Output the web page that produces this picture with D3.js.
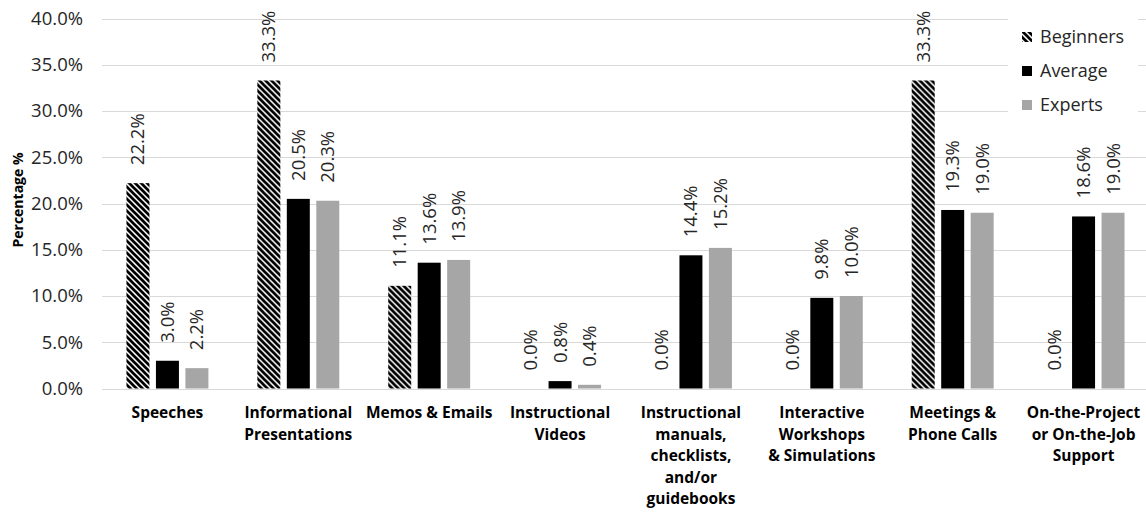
<!DOCTYPE html>
<html>
<head>
<meta charset="utf-8">
<script src="https://cdn.jsdelivr.net/npm/d3@7"></script>
<style>
  html, body { margin: 0; padding: 0; background: #fff; }
  svg { display: block; font-family: "Open Sans", "Noto Sans", sans-serif; }
</style>
</head>
<body>
<svg id="chart" width="1146" height="516"></svg>
<script>
// Communication channels (line breaks follow the wrapped axis labels)
const categories = [
  "Speeches",
  "Informational\nPresentations",
  "Memos & Emails",
  "Instructional\nVideos",
  "Instructional\nmanuals,\nchecklists,\nand/or\nguidebooks",
  "Interactive\nWorkshops\n& Simulations",
  "Meetings &\nPhone Calls",
  "On-the-Project\nor On-the-Job\nSupport"
];
const seriesNames = ["Beginners", "Average", "Experts"];

// Percentages per group
const beginners = [22.2, 33.3, 11.1, 0.0, 0.0, 0.0, 33.3, 0.0];
const average   = [3.0, 20.5, 13.6, 0.8, 14.4, 9.8, 19.3, 18.6];
const experts   = [2.2, 20.3, 13.9, 0.4, 15.2, 10.0, 19.0, 19.0];

const yTicks = [0, 5, 10, 15, 20, 25, 30, 35, 40];

const seriesValues = [beginners, average, experts];

const svg = d3.select("#chart");
const margin = { left: 102, right: 1149, top: 18.5, bottom: 388.5 };

const x = d3.scaleBand()
  .domain(categories)
  .range([margin.left, margin.right])
  .paddingInner(0)
  .paddingOuter(0);

const xInner = d3.scaleBand()
  .domain(seriesNames)
  .range([0, x.bandwidth()])
  .paddingInner(0.22)
  .paddingOuter(0.83);

const y = d3.scaleLinear()
  .domain([0, 40])
  .range([margin.bottom, margin.top]);

// Diagonal hatch for the Beginners series
const defs = svg.append("defs");
const pat = defs.append("pattern")
  .attr("id", "hatch")
  .attr("patternUnits", "userSpaceOnUse")
  .attr("width", 6)
  .attr("height", 6);
pat.append("rect").attr("width", 6).attr("height", 6).attr("fill", "#fff");
pat.append("path")
  .attr("d", "M-2,-2L8,8M-2,4L2,8M4,-2L8,2")
  .attr("stroke", "#000")
  .attr("stroke-width", 2.7);

const fills = { Beginners: "url(#hatch)", Average: "#000000", Experts: "#a6a6a6" };

// Gridlines
svg.append("g")
  .selectAll("line")
  .data(yTicks)
  .join("line")
  .attr("x1", margin.left)
  .attr("x2", 1146)
  .attr("y1", d => Math.round(y(d)) + 0.5)
  .attr("y2", d => Math.round(y(d)) + 0.5)
  .attr("stroke", "#d9d9d9")
  .attr("stroke-width", 1);

// Y axis tick labels
const yAxis = d3.axisLeft(y)
  .tickValues(yTicks)
  .tickSize(0)
  .tickPadding(0)
  .tickFormat(d => d.toFixed(1) + "%");
const yg = svg.append("g")
  .attr("transform", "translate(83,0)")
  .call(yAxis);
yg.select(".domain").remove();
yg.selectAll("text")
  .attr("font-size", 18.5)
  .attr("fill", "#262626")
  .attr("font-family", "'Open Sans', sans-serif");

// Y axis title
svg.append("text")
  .attr("transform", "translate(18,200) rotate(-90)")
  .attr("text-anchor", "middle")
  .attr("dy", "0.35em")
  .attr("font-size", 14)
  .attr("font-weight", "bold")
  .attr("fill", "#000")
  .text("Percentage %");

// Bars and value labels
const rows = categories.map((c, i) => ({
  cat: c,
  vals: seriesNames.map((s, j) => ({ series: s, value: seriesValues[j][i] }))
}));

const groups = svg.append("g")
  .selectAll("g")
  .data(rows)
  .join("g")
  .attr("transform", d => `translate(${x(d.cat)},0)`);

groups.selectAll("rect")
  .data(d => d.vals)
  .join("rect")
  .attr("x", d => xInner(d.series))
  .attr("width", xInner.bandwidth())
  .attr("y", d => y(d.value))
  .attr("height", d => y(0) - y(d.value))
  .attr("fill", d => fills[d.series]);

groups.selectAll("text.val")
  .data(d => d.vals)
  .join("text")
  .attr("class", "val")
  .attr("transform", d =>
    `translate(${xInner(d.series) + xInner.bandwidth() / 2},${y(d.value) - 18}) rotate(-90)`)
  .attr("dy", "0.35em")
  .attr("text-anchor", "start")
  .attr("font-size", 18.5)
  .attr("fill", "#262626")
  .text(d => d.value.toFixed(1) + "%");

// X axis category labels
const xl = svg.append("g")
  .selectAll("text")
  .data(categories)
  .join("text")
  .attr("x", d => x(d) + x.bandwidth() / 2)
  .attr("y", 418)
  .attr("text-anchor", "middle")
  .attr("font-size", 15.5)
  .attr("font-weight", "bold")
  .attr("fill", "#000");
xl.selectAll("tspan")
  .data(d => d.split("\n").map(t => ({ t, parent: d })))
  .join("tspan")
  .attr("x", d => x(d.parent) + x.bandwidth() / 2)
  .attr("dy", (d, i) => i === 0 ? 0 : 21.5)
  .text(d => d.t);

// Legend
const legend = svg.append("g");
legend.append("rect")
  .attr("x", 1008).attr("y", 8)
  .attr("width", 130).attr("height", 116)
  .attr("fill", "#fff");
const li = legend.selectAll("g")
  .data(seriesNames)
  .join("g")
  .attr("transform", (d, i) => `translate(1022,${37 + i * 34})`);
li.append("rect")
  .attr("x", 0).attr("y", -5)
  .attr("width", 10).attr("height", 10)
  .attr("fill", d => fills[d]);
li.append("text")
  .attr("x", 18)
  .attr("dy", "0.35em")
  .attr("font-size", 18)
  .attr("fill", "#262626")
  .text(d => d);
</script>
</body>
</html>
